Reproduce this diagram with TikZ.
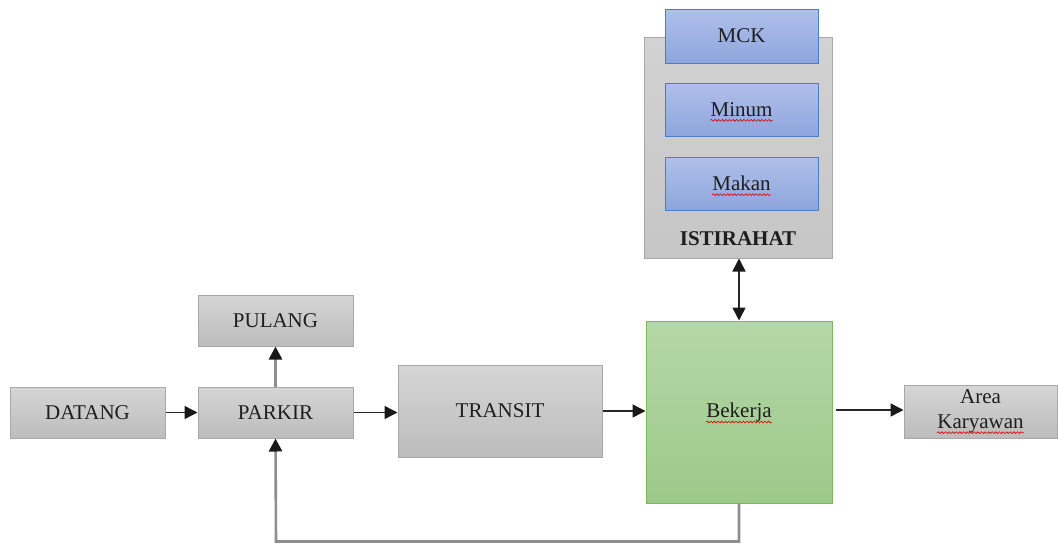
\documentclass[tikz,border=0pt]{standalone}
\usepackage{fontspec}
\setmainfont{Liberation Serif}
\usetikzlibrary{arrows.meta,decorations.pathmorphing}

\definecolor{grayTop}{HTML}{D6D6D6}
\definecolor{grayBot}{HTML}{BCBCBC}
\definecolor{grayEdge}{HTML}{A8A8A8}
\definecolor{blueTop}{HTML}{B0BFEA}
\definecolor{blueBot}{HTML}{8EA6DD}
\definecolor{blueEdge}{HTML}{4F7BCB}
\definecolor{greenTop}{HTML}{B5D7A7}
\definecolor{greenBot}{HTML}{9CC98A}
\definecolor{greenEdge}{HTML}{7DB95C}
\definecolor{outerTop}{HTML}{D2D2D2}
\definecolor{outerBot}{HTML}{C6C6C6}
\definecolor{linkGray}{HTML}{8E8E8E}
\definecolor{inkText}{HTML}{1E1E1E}

\tikzset{
  base/.style={rectangle, line width=1pt, inner sep=0pt, text=inkText,
    font=\fontsize{21}{25}\selectfont, align=center},
  graybox/.style={base, draw=grayEdge, top color=grayTop, bottom color=grayBot},
  bluebox/.style={base, draw=blueEdge, top color=blueTop, bottom color=blueBot},
  greenbox/.style={base, draw=greenEdge, top color=greenTop, bottom color=greenBot},
  outerbox/.style={base, draw=grayEdge, top color=outerTop, bottom color=outerBot},
  lbl/.style={inner sep=0pt, text=inkText, font=\fontsize{21}{25}\selectfont, align=center},
  tip/.style={-{Triangle[length=13pt,width=13pt,color=black!90]}},
  flow/.style={tip, line width=1.5pt, draw=black!85},
  grayflow/.style={tip, line width=2.6pt, draw=linkGray},
  spell/.style={draw=red!85!black, line width=0.6pt,
    decorate, decoration={snake, amplitude=0.9pt, segment length=3.6pt}}
}

\begin{document}
\begin{tikzpicture}[x=1pt,y=-1pt]
\useasboundingbox (0,0) rectangle (1058,544);

% rest area with its three facilities
\node[outerbox, minimum width=188pt, minimum height=221pt] (ist) at (738,147.5) {};
\node[bluebox, minimum width=153pt, minimum height=54pt] (mck) at (741.5,36) {MCK};
\node[bluebox, minimum width=153pt, minimum height=53pt] (minum) at (741.5,109.5) {};
\node[lbl] (tminum) at (minum.center) {Minum};
\node[bluebox, minimum width=153pt, minimum height=53pt] (makan) at (741.5,183.5) {};
\node[lbl] (tmakan) at (makan.center) {Makan};
\node[lbl, font=\fontsize{21}{25}\selectfont\bfseries] (tist) at (738,239) {ISTIRAHAT};

% main flow
\node[graybox, minimum width=155pt, minimum height=51pt] (datang) at (87.5,412.5) {DATANG};
\node[graybox, minimum width=155pt, minimum height=51pt] (parkir) at (275.5,412.5) {PARKIR};
\node[graybox, minimum width=155pt, minimum height=51pt] (pulang) at (275.5,320.5) {PULANG};
\node[graybox, minimum width=204pt, minimum height=92pt] (transit) at (500,411) {TRANSIT};
\node[greenbox, minimum width=186pt, minimum height=182pt] (bekerja) at (739,412) {};
\node[lbl] (tbekerja) at (bekerja.center) {Bekerja};
\node[graybox, minimum width=153pt, minimum height=53pt] (area) at (980.5,411.5) {};
\node[lbl] (tarea) at (area.center) {Area\\Karyawan};

% spelling marks under the Indonesian words
\draw[spell] ([yshift=-4pt]tminum.base west) -- ([yshift=-4pt]tminum.base east);
\draw[spell] ([yshift=-4pt]tmakan.base west) -- ([yshift=-4pt]tmakan.base east);
\draw[spell] ([yshift=-5pt]tbekerja.base west) -- ([yshift=-5pt]tbekerja.base east);
\draw[spell] ([yshift=-4pt]tarea.base west) -- ([yshift=-4pt]tarea.base east);

% connectors
\draw[flow] (datang.east) -- (datang.east -| parkir.west);
\draw[grayflow] (parkir.north) -- (pulang.south);
\draw[flow] (parkir.east) -- (parkir.east -| transit.west);
\draw[flow] (transit.east) -- (transit.east -| bekerja.west);
\draw[flow, shorten <=3pt] ([yshift=2pt]bekerja.east) -- ([yshift=2pt]bekerja.east -| area.west);
\draw[flow, {Triangle[length=13pt,width=13pt,color=black!90]}-{Triangle[length=13pt,width=13pt,color=black!90]}]
  (bekerja.north) -- (bekerja.north |- ist.south);
\coordinate (back) at (276,541.5);
\draw[grayflow] (bekerja.south) |- (back) -- (parkir.south);
\end{tikzpicture}
\end{document}
